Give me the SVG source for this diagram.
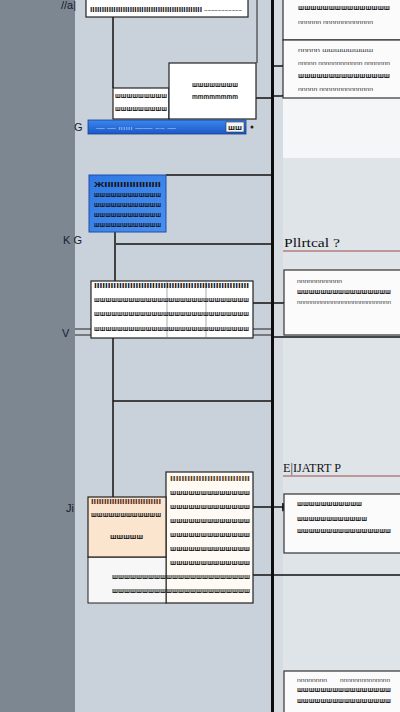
<svg xmlns="http://www.w3.org/2000/svg" width="400" height="712" viewBox="0 0 400 712">
<defs>
<linearGradient id="blueBar" x1="0" y1="0" x2="0" y2="1">
<stop offset="0" stop-color="#3b86ee"/><stop offset="1" stop-color="#1c58c8"/>
</linearGradient>
<linearGradient id="blueNode" x1="0" y1="0" x2="1" y2="1">
<stop offset="0" stop-color="#2f78e4"/><stop offset="1" stop-color="#4a90ee"/>
</linearGradient>
<marker id="arr" viewBox="0 0 8 8" refX="7" refY="4" markerWidth="6" markerHeight="6" orient="auto">
<path d="M0,0 L8,4 L0,8 z" fill="#111"/>
</marker>
<style>
.t{font-family:"Liberation Sans",Arial,sans-serif;font-weight:bold;font-size:7.5px;fill:#151515}
.tl{font-family:"Liberation Sans",Arial,sans-serif;font-size:6px;fill:#333}
.lab{font-family:"Liberation Sans",Arial,sans-serif;font-size:11px;fill:#1a1a2a}
.head{font-family:"Liberation Serif",serif;font-size:12px;fill:#111}
.box{fill:#ffffff;stroke:#222;stroke-width:1.2}
.rbox{fill:#fbfbfc;stroke:#333;stroke-width:1.2}
.c{stroke:#111;stroke-width:1.5;fill:none}
.thin{stroke:#222;stroke-width:1;fill:none}
.col{stroke:#777;stroke-width:0.6}
</style>
</defs>

<!-- backgrounds -->
<rect x="0" y="0" width="400" height="712" fill="#dfe4e9"/>
<rect x="0" y="0" width="75" height="712" fill="#7c8792"/>
<rect x="75" y="0" width="197" height="712" fill="#c9d1da"/>
<rect x="274" y="0" width="9" height="712" fill="#d6dce2"/>
<rect x="283" y="0" width="117" height="158" fill="#f5f6f8"/>
<rect x="271" y="0" width="3" height="712" fill="#0d0d0d"/>

<!-- connectors -->
<g id="connectors">
<line class="c" x1="113" y1="17" x2="113" y2="88"/>
<line class="thin" x1="257" y1="0" x2="257" y2="63"/>
<line class="c" x1="248" y1="98" x2="271" y2="98"/>
<line class="c" x1="166" y1="175" x2="271" y2="175"/>
<line class="c" x1="115" y1="232" x2="115" y2="281" stroke-width="2"/>
<line class="c" x1="116" y1="244" x2="271" y2="244"/>
<line class="thin" x1="75" y1="329" x2="91" y2="329"/>
<line class="thin" x1="75" y1="335" x2="91" y2="335"/>
<line class="thin" x1="253" y1="329" x2="271" y2="329"/>
<line class="thin" x1="253" y1="335" x2="271" y2="335"/>
<path class="c" d="M253,303 H283 Q285,303 285,299 L290,297"/>
<line class="c" x1="113" y1="338" x2="113" y2="497"/>
<line class="c" x1="113" y1="401" x2="271" y2="401"/>
<line class="c" x1="274" y1="337" x2="400" y2="337"/>
<line class="c" x1="253" y1="507" x2="290" y2="507" marker-end="url(#arr)"/>
<line class="c" x1="253" y1="575" x2="400" y2="575"/>
<path class="c" d="M274,66 H282 Q284,66 284,62 L290,60"/>
<path class="c" d="M274,96 H282 Q284,96 284,92 L290,90"/>
<line stroke="#9b4a4a" stroke-width="1" x1="283" y1="251" x2="400" y2="251"/>
<line stroke="#9b4a4a" stroke-width="1" x1="283" y1="476" x2="400" y2="476"/>
</g>

<!-- top-left node -->
<g id="n-top">
<text class="lab" x="61" y="9">//a|</text>
<rect class="box" x="86" y="-2" width="162" height="19"/>
<text class="t" x="90" y="12" textLength="112" lengthAdjust="spacingAndGlyphs">IIIIIIIIIIIIIIIIIIIIIIIIIIIIIIIIIIIIIIIIIIIIIIII</text>
<text class="tl" x="204" y="12" textLength="38" lengthAdjust="spacingAndGlyphs">~~~~~~~~~~~</text>
</g>

<!-- small white box + larger white box -->
<g id="n-pair">
<rect class="box" x="113" y="88" width="56" height="31"/>
<text class="t" x="115" y="98" textLength="52" lengthAdjust="spacingAndGlyphs">шшшшшшшшш</text>
<text class="t" x="115" y="111" textLength="52" lengthAdjust="spacingAndGlyphs">шшшшшшшшш</text>
<rect class="box" x="169" y="63" width="87" height="56"/>
<text class="t" x="192" y="87" textLength="46" lengthAdjust="spacingAndGlyphs">шшшшшшшш</text>
<text class="t" x="192" y="99" textLength="46" lengthAdjust="spacingAndGlyphs">mmmmmmmm</text>
</g>

<!-- blue bar -->
<g id="n-bar">
<text class="lab" x="74" y="131">G</text>
<rect x="88" y="120" width="158" height="14" fill="url(#blueBar)" stroke="#1a3f8a" stroke-width="0.8"/>
<text class="tl" x="96" y="130" style="fill:#a9c8f5" textLength="80" lengthAdjust="spacingAndGlyphs">— — ıııııı —— ~~ —</text>
<rect x="226" y="122" width="18" height="10" fill="#f4f6fa" stroke="#333" stroke-width="0.6"/>
<text class="t" x="228" y="130" textLength="14" lengthAdjust="spacingAndGlyphs">шш</text>
<circle cx="252" cy="127" r="1.5" fill="#222"/>
</g>

<!-- blue node -->
<g id="n-blue">
<rect x="89" y="175" width="77" height="57" fill="url(#blueNode)" stroke="#1f4fa8" stroke-width="1"/>
<text class="t" x="94" y="187" textLength="67" lengthAdjust="spacingAndGlyphs">ЖIIIIIIIIIIIIIIIIII</text>
<text class="t" x="94" y="197" textLength="67" lengthAdjust="spacingAndGlyphs">шшшшшшшшшшшш</text>
<text class="t" x="94" y="207" textLength="67" lengthAdjust="spacingAndGlyphs">шшшшшшшшшшшш</text>
<text class="t" x="94" y="217" textLength="67" lengthAdjust="spacingAndGlyphs">шшшшшшшшшшшш</text>
<text class="t" x="94" y="227" textLength="67" lengthAdjust="spacingAndGlyphs">шшшшшшшшшшшш</text>
<text class="lab" x="63" y="244">K G</text>
</g>

<!-- table node -->
<g id="n-table">
<rect class="box" x="91" y="281" width="162" height="57"/>
<line class="col" x1="167" y1="282" x2="167" y2="337"/>
<line class="col" x1="206" y1="282" x2="206" y2="337"/>
<text class="t" x="94" y="288" textLength="155" lengthAdjust="spacingAndGlyphs">IIIIIIIIIIIIIIIIIIIIIIIIIIIIIIIIIIIIIIIIIIIIIIIIIIIIIIII</text>
<text class="t" x="94" y="302" textLength="155" lengthAdjust="spacingAndGlyphs">шшшшшшшшшшшшшшшшшшшшшшшшшшш</text>
<text class="t" x="94" y="316" textLength="155" lengthAdjust="spacingAndGlyphs">шшшшшшшшшшшшшшшшшшшшшшшшшшш</text>
<text class="t" x="94" y="331" textLength="155" lengthAdjust="spacingAndGlyphs">шшшшшшшшшшшшшшшшшшшшшшшшшшш</text>
<text class="lab" x="62" y="337">V</text>
</g>

<!-- beige + table node -->
<g id="n-beige">
<rect x="166" y="472" width="87" height="131" fill="#fffaf3" stroke="#222" stroke-width="1.2"/>
<rect x="88" y="557" width="78" height="46" fill="#f7f7f7" stroke="#222" stroke-width="1"/>
<text class="t" x="170" y="481" textLength="80" lengthAdjust="spacingAndGlyphs" style="fill:#5a3a20">IIIIIIIIIIIIIIIIIIIIIIIIIIII</text>
<text class="t" x="170" y="495" textLength="80" lengthAdjust="spacingAndGlyphs">шшшшшшшшшшшшш</text>
<text class="t" x="170" y="509" textLength="80" lengthAdjust="spacingAndGlyphs">шшшшшшшшшшшшш</text>
<text class="t" x="170" y="523" textLength="80" lengthAdjust="spacingAndGlyphs">шшшшшшшшшшшшш</text>
<text class="t" x="170" y="537" textLength="80" lengthAdjust="spacingAndGlyphs">шшшшшшшшшшшшш</text>
<text class="t" x="170" y="551" textLength="80" lengthAdjust="spacingAndGlyphs">шшшшшшшшшшшшш</text>
<text class="t" x="170" y="565" textLength="80" lengthAdjust="spacingAndGlyphs">шшшшшшшшшшшшш</text>
<text class="t" x="112" y="579" textLength="138" lengthAdjust="spacingAndGlyphs">шшшшшшшшшшшшшшшшшшшшшшш</text>
<text class="t" x="112" y="593" textLength="138" lengthAdjust="spacingAndGlyphs">шшшшшшшшшшшшшшшшшшшшшшш</text>
<rect x="88" y="497" width="78" height="60" fill="#fbe5cf" stroke="#222" stroke-width="1.2"/>
<text class="t" x="91" y="504" textLength="70" lengthAdjust="spacingAndGlyphs" style="fill:#5a2a1a">IIIIIIIIIIIIIIIIIIIIIIIIIII</text>
<text class="t" x="91" y="517" textLength="70" lengthAdjust="spacingAndGlyphs">шшшшшшшшшшшш</text>
<text class="t" x="110" y="539" textLength="33" lengthAdjust="spacingAndGlyphs">шшшшш</text>
<text class="lab" x="66" y="512">Ji</text>
</g>

<!-- right column boxes -->
<g id="r-top">
<rect class="rbox" x="283" y="-2" width="120" height="42"/>
<text class="t" x="298" y="10" textLength="92" lengthAdjust="spacingAndGlyphs">шшшшшшшшшшшшшшш</text>
<text class="tl" x="298" y="24" textLength="75" lengthAdjust="spacingAndGlyphs">nnnnnn nnnnnnnnnnnnn</text>
</g>
<g id="r-second">
<rect class="rbox" x="283" y="40" width="120" height="58"/>
<text class="tl" x="298" y="52" textLength="75" lengthAdjust="spacingAndGlyphs">nnnnn шшшшшшшш</text>
<text class="tl" x="298" y="65" textLength="92" lengthAdjust="spacingAndGlyphs">nnnnn nnnnnnnnnnnn nnnnnnn</text>
<text class="t" x="298" y="78" textLength="92" lengthAdjust="spacingAndGlyphs">шшшшшшшшшшшшшшш</text>
<text class="tl" x="298" y="91" textLength="75" lengthAdjust="spacingAndGlyphs">nnnnn nnnnnnnnnnnnnn</text>
</g>
<g id="r-h1">
<text class="head" x="284" y="247" textLength="56" lengthAdjust="spacingAndGlyphs">Pllrtcal ?</text>
</g>
<g id="r-mid">
<rect class="rbox" x="284" y="270" width="119" height="65"/>
<text class="tl" x="297" y="283" textLength="45" lengthAdjust="spacingAndGlyphs">nnnnnnnnnnnn</text>
<text class="t" x="297" y="294" textLength="94" lengthAdjust="spacingAndGlyphs">шшшшшшшшшшшшшшшш</text>
<text class="tl" x="297" y="304" textLength="94" lengthAdjust="spacingAndGlyphs">nnnnnnnnnnnnnnnnnnnnnnnnnnn</text>
</g>
<g id="r-h2">
<text class="head" x="283" y="472" textLength="58" lengthAdjust="spacingAndGlyphs">E|IJATRT P</text>
</g>
<g id="r-low">
<rect class="rbox" x="284" y="494" width="119" height="59"/>
<text class="t" x="297" y="506" textLength="65" lengthAdjust="spacingAndGlyphs">шшшшшшшшшшш</text>
<text class="t" x="297" y="521" textLength="70" lengthAdjust="spacingAndGlyphs">шшшшшшшшшшшш</text>
<text class="t" x="297" y="533" textLength="94" lengthAdjust="spacingAndGlyphs">шшшшшшшшшшшшшшшш</text>
</g>
<g id="r-bottom">
<rect class="rbox" x="284" y="671" width="119" height="45"/>
<text class="tl" x="297" y="682" textLength="30" lengthAdjust="spacingAndGlyphs">nnnnnnnn</text>
<text class="tl" x="340" y="682" textLength="50" lengthAdjust="spacingAndGlyphs">nnnnnnnnnnnnnn</text>
<text class="t" x="297" y="692" textLength="94" lengthAdjust="spacingAndGlyphs">шшшшшшшшшшшшшшшш</text>
<text class="t" x="297" y="703" textLength="94" lengthAdjust="spacingAndGlyphs">шшшшшшшшшшшшшшшш</text>
</g>
</svg>
